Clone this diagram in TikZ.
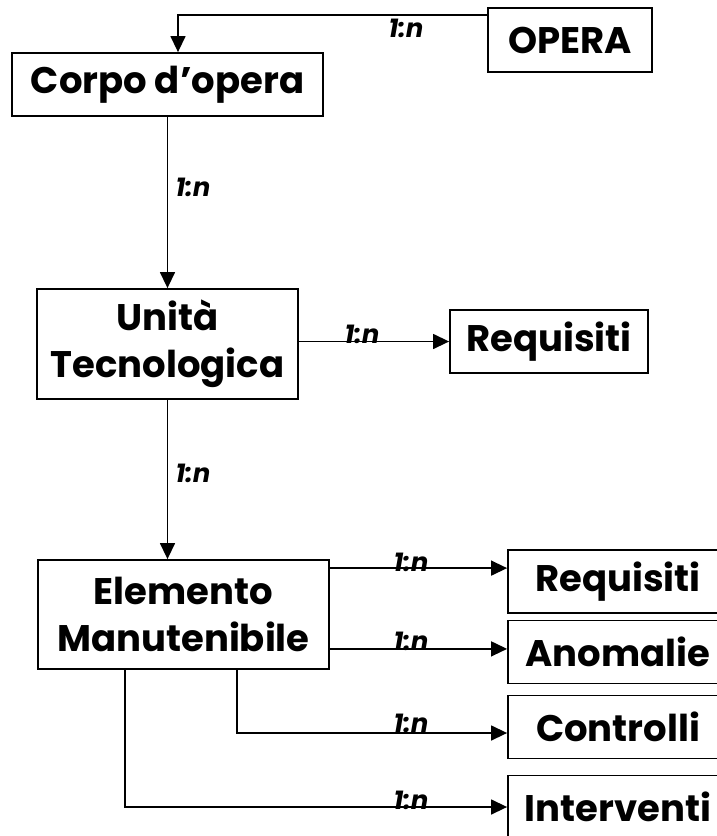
\documentclass[tikz,border=0pt]{standalone}
\usepackage{fontspec}
\setmainfont{Poppins}
\usetikzlibrary{arrows.meta}

\begin{document}
\begin{tikzpicture}[
    x=1pt, y=-1pt,
    box/.style={rectangle, draw, line width=1.8pt, inner sep=0pt, align=center, font=\fontsize{37}{47}\selectfont\bfseries},
    card/.style={box, minimum width=220pt, minimum height=63pt},
    rel/.style={inner sep=0pt, font=\fontsize{26}{26}\selectfont\bfseries\itshape},
    link/.style={line width=1.4pt, -{Triangle[length=16pt,width=15pt]}}
]
\useasboundingbox (0,0) rectangle (717,836);
\fill[white] (0,0) rectangle (717,836);
\clip (0,0) rectangle (717,836);

% main chain
\node[box, minimum width=164pt, minimum height=64pt] (opera) at (570,40) {OPERA};
\node[box, minimum width=311pt, minimum height=63pt] (corpo) at (167.5,84.5) {Corpo d'opera};
\node[box, minimum width=261pt, minimum height=110pt] (unita) at (167.5,344) {Unità\\Tecnologica};
\node[box, minimum width=291pt, minimum height=109pt] (elem) at (183.5,614.5) {Elemento\\Manutenibile};

% right side
\node[box, minimum width=198pt, minimum height=63pt] (req) at (549,341.5) {Requisiti};
\node[card] (elreq) at (618,581.5) {Requisiti};
\node[card] (anom) at (618,652) {Anomalie};
\node[card] (contr) at (618,727) {Controlli};
\node[card] (interv) at (618,807) {Interventi};

% start points
\coordinate (op1) at ([yshift=-8pt]opera.north west);
\coordinate (co1) at ([xshift=10.5pt]corpo.north);
\coordinate (el1) at ([yshift=-9pt]elem.north east);
\coordinate (el2) at ([yshift=21pt]elem.south east);
\coordinate (el3) at ([xshift=53.5pt]elem.south);
\coordinate (el4) at ([xshift=-58.5pt]elem.south);

% connections
\draw[link] (op1) -| (co1);
\draw[link] (corpo.south) -- (unita.north);
\draw[link] (unita.south) -- (unita.south |- elem.north);
\draw[link] (req.west -| unita.east) -- (req.west);
\draw[link] (el1) -- (el1 -| elreq.west);
\draw[link] (el2) -- (el2 -| anom.west);
\draw[link] (el3) |- ([yshift=-6pt]contr.west);
\draw[link] (el4) |- (interv.west);

% multiplicities
\node[rel] (r1) at (406,28) {1:n};
\node[rel] (r2) at (193,187) {1:n};
\node[rel] (r3) at (193,473) {1:n};
\node[rel] (r4) at (362,334) {1:n};
\node[rel] (r5) at (411,562) {1:n};
\node[rel] (r6) at (411,641) {1:n};
\node[rel] (r7) at (411,723) {1:n};
\node[rel] (r8) at (411,800) {1:n};
\end{tikzpicture}
\end{document}
